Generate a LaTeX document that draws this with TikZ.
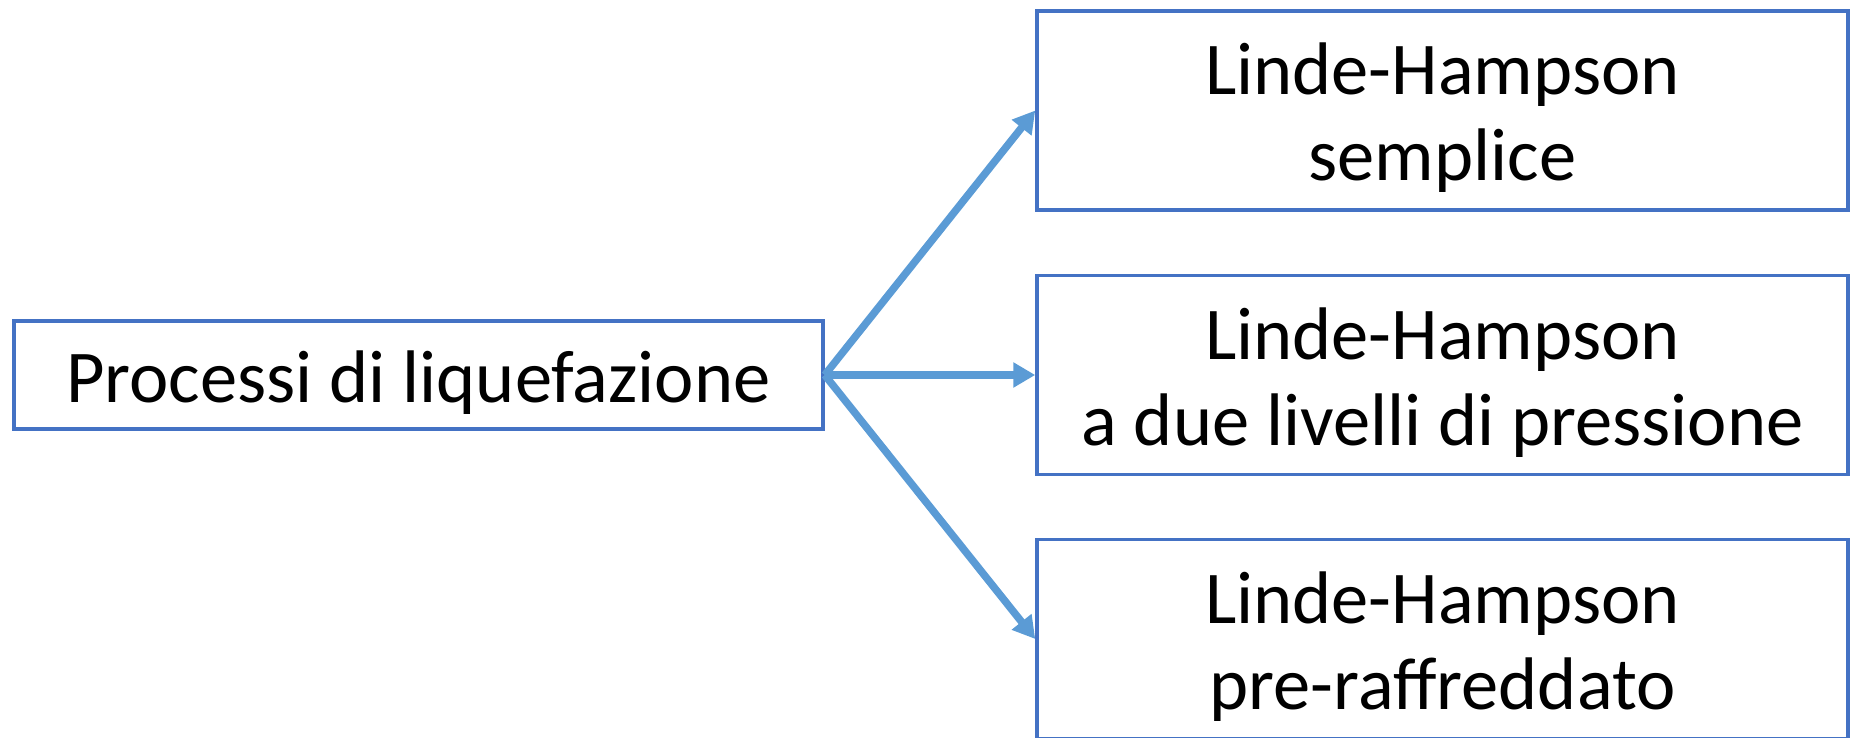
\documentclass[tikz,border=0pt]{standalone}
\usepackage{fontspec}
\setmainfont{Carlito}
\usetikzlibrary{arrows.meta}
\definecolor{boxblue}{HTML}{4472C4}
\definecolor{arrowblue}{HTML}{5B9BD5}
\tikzset{
  procbox/.style={draw=boxblue, line width=3.5pt, fill=white, inner sep=0pt, align=center,
    font=\fontsize{74.5}{86}\selectfont},
  onelinebox/.style={procbox, minimum width=809pt, minimum height=108pt, text height=67pt},
  twolinebox/.style={procbox, minimum width=811pt, minimum height=199pt, text height=153pt},
  branch/.style={draw=arrowblue, line width=7.5pt, -{Triangle[length=22pt,width=24pt]}}
}
\begin{document}
\begin{tikzpicture}[x=1pt,y=-1pt]
\useasboundingbox (0,0) rectangle (1850,738);
\node[onelinebox] (root) at (418.5,375) {Processi di liquefazione};
\node[twolinebox] (b1) at (1442.5,110.5) {Linde-Hampson\\semplice};
\node[twolinebox] (b2) at (1442.5,375) {Linde-Hampson\\a due livelli di pressione};
\node[twolinebox] (b3) at (1442.5,639) {Linde-Hampson\\pre-raffreddato};
\coordinate (o) at (root.east);
\draw[branch] (o) -- (b1.west);
\draw[branch] (o) -- (b2.west);
\draw[branch] (o) -- (b3.west);
\end{tikzpicture}
\end{document}
